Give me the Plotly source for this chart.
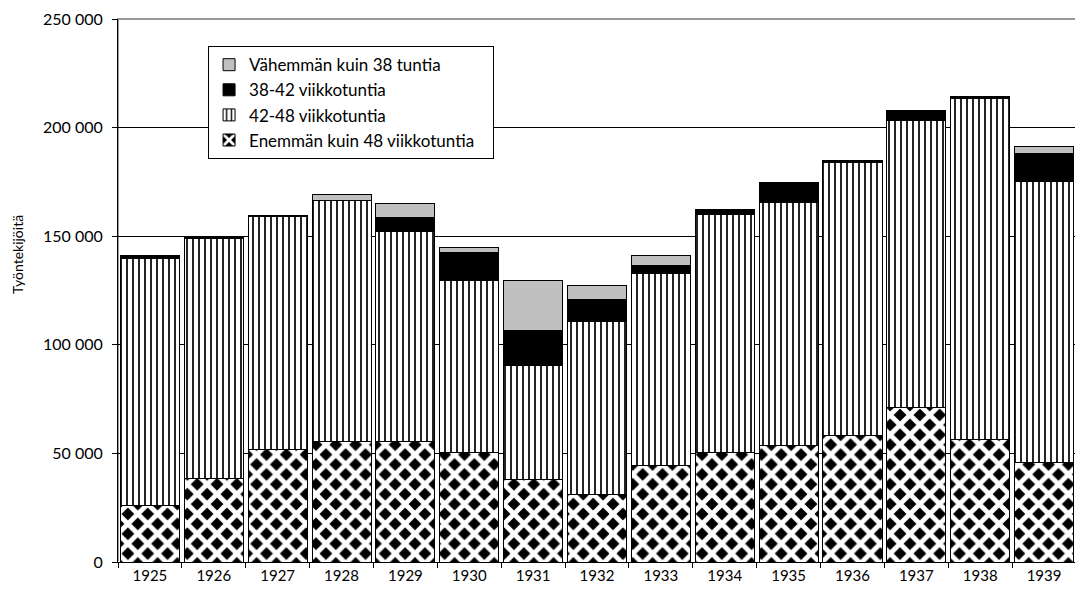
import plotly.graph_objects as go

years = [str(y) for y in range(1925, 1940)]

# workers by weekly hours
over_48 = [25800, 38300, 51700, 55700, 55400, 50200, 38000, 31300, 44400, 50200, 53600, 58200, 71000, 56600, 45900]
top_42_48 = [139600, 148800, 159200, 166500, 152000, 129700, 90700, 110700, 132900, 160100, 165400, 183800, 203300, 213500, 175200]
h_38_42 = [1000, 900, 0, 0, 6400, 12900, 16000, 10300, 3400, 1800, 9200, 600, 4300, 800, 13000]
under_38 = [300, 200, 200, 2800, 6700, 2200, 23000, 6400, 4600, 300, 200, 300, 300, 200, 3100]

h_42_48 = [t - b for t, b in zip(top_42_48, over_48)]

names = ["Enemmän kuin 48 viikkotuntia\u00a0\u00a0\u00a0", "42-48 viikkotuntia", "38-42 viikkotuntia", "Vähemmän kuin 38 tuntia"]

font = "Lato, 'Open Sans', sans-serif"
line = dict(color="black", width=1)

fig = go.Figure()
fig.add_bar(x=years, y=over_48, name=names[0], legendgroup="a",
            marker=dict(color="black", line=line,
                        pattern=dict(shape="x", fgcolor="white", bgcolor="black",
                                     size=14, solidity=0.58, fillmode="replace")))
fig.add_bar(x=years, y=h_42_48, name=names[1], legendgroup="b",
            marker=dict(color="white", line=line,
                        pattern=dict(shape="|", fgcolor="#222222", bgcolor="white",
                                     size=6, solidity=0.33, fillmode="replace")))
fig.add_bar(x=years, y=h_38_42, name=names[2], legendgroup="c",
            marker=dict(color="black", line=line))
fig.add_bar(x=years, y=under_38, name=names[3], legendgroup="d",
            marker=dict(color="#c0c0c0", line=line))

# page has ~8px body margin, so the figure is shrunk and margins shifted
fig.update_layout(
    width=1075, height=597,
    margin=dict(l=110, r=7, t=11, b=43),
    barmode="stack", bargap=0.075,
    plot_bgcolor="white", paper_bgcolor="white",
    separators=", ",
    font=dict(family=font, size=14, color="black"),
    showlegend=True,
    legend=dict(x=0.094, y=0.95, xanchor="left", yanchor="top",
                traceorder="reversed", tracegroupgap=2,
                bgcolor="white", bordercolor="black", borderwidth=1,
                font=dict(size=17)),
    shapes=[dict(type="rect", xref="paper", yref="paper", x0=0, x1=1, y0=0, y1=1,
                 line=dict(color="#999999", width=2), layer="below")],
    annotations=[dict(text="Työntekijöitä", xref="paper", yref="paper",
                      x=-0.105, y=0.566, xanchor="center", yanchor="middle",
                      textangle=-90, showarrow=False, font=dict(size=14))],
)
fig.update_xaxes(type="category", showline=True, linecolor="black", linewidth=1,
                 ticks="outside", tickson="boundaries", ticklen=5, tickcolor="black",
                 tickfont=dict(size=15), showgrid=False, automargin=False)
fig.update_yaxes(range=[0, 250000], dtick=50000, tickformat=",d",
                 showline=True, linecolor="black", linewidth=1,
                 ticks="outside", ticklen=5, tickcolor="black", ticklabelstandoff=6,
                 ticklabeloverflow="allow",
                 showgrid=True, gridcolor="black", gridwidth=1,
                 tickfont=dict(size=16), automargin=False)

fig.write_html("out.html")
